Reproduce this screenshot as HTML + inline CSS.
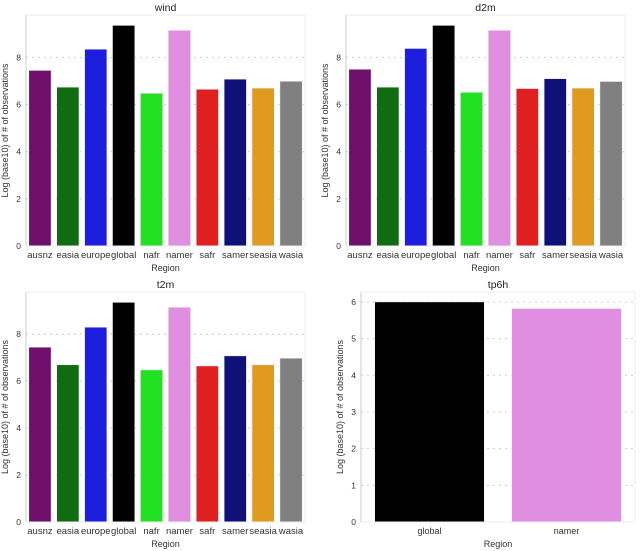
<!DOCTYPE html>
<html><head><meta charset="utf-8"><style>
body{margin:0;background:#fff;}
svg{display:block;font-family:"Liberation Sans","DejaVu Sans",sans-serif;}
</style></head><body>
<svg id="fig" width="640" height="551"></svg>
<script>
const regions=["ausnz","easia","europe","global","nafr","namer","safr","samer","seasia","wasia"];
const colors=["#6f0f6b","#116b11","#1e1ee0","#000000","#22e022","#e08ee0","#e02020","#101078","#e09a20","#808080"];
const windVals=[7.45,6.74,8.35,9.36,6.48,9.15,6.65,7.08,6.7,6.99];
const d2mVals=[7.5,6.74,8.38,9.36,6.52,9.15,6.68,7.1,6.7,6.98];
const t2mVals=[7.45,6.7,8.3,9.36,6.48,9.15,6.65,7.08,6.7,6.98];
const tpRegions=["global","namer"];
const tpColors=["#000000","#e08ee0"];
const tpVals=[6.0,5.82];
const ticks10=[0,2,4,6,8];
const ticks6=[0,1,2,3,4,5,6];
const NS="http://www.w3.org/2000/svg";
const svg=document.getElementById('fig');
function mk(tag,attrs,parent){const e=document.createElementNS(NS,tag);for(const k in attrs)e.setAttribute(k,attrs[k]);(parent||svg).appendChild(e);return e;}
function panel(name,title,L,R,T,B,ymax,ticks,cats,cols,vals,fs){
  const g=mk('g',{});
  
  
  const y=v=>B-(v/ymax)*(B-T);
  const n=cats.length, step=(R-L)/n, bw=step*0.8;
  const x=i=>L+step*i+step*0.1;
  ticks.forEach(t=>{
    const gl=mk('line',{x1:L,x2:R,y1:y(t),y2:y(t),stroke:'#ccc','stroke-dasharray':'2,4','stroke-width':1},g);
    
    
    const tl=mk('text',{x:L-5,y:y(t)+3,'text-anchor':'end','font-size':8.5,fill:'#333'},g);
    tl.textContent=t;
    
    
  });
  vals.forEach((v,i)=>{
    const r=mk('rect',{x:x(i),y:y(v),width:bw,height:B-y(v),fill:cols[i],stroke:'#eee','stroke-width':0.6},g);
    
    
    const tl=mk('text',{x:x(i)+bw/2,y:B+12,'text-anchor':'middle','font-size':fs,fill:'#333'},g);
    tl.textContent=cats[i];
    
    
  });
  const ax=mk('line',{x1:L,x2:L,y1:T,y2:B,stroke:'#555','stroke-width':1.2},g);
  
  
  const fr=mk('rect',{x:L,y:T,width:R-L,height:B-T,fill:'none',stroke:'#eee'},g);
  
  
  const tt=mk('text',{x:(L+R)/2,y:T-4,'text-anchor':'middle','font-size':10.5,fill:'#222'},g);
  tt.textContent=title;
  
  
  const xt=mk('text',{x:(L+R)/2,y:B+25,'text-anchor':'middle','font-size':9,fill:'#333'},g);
  xt.textContent='Region';
  
  
  const cy=(T+B)/2, cx=L-18;
  const yt=mk('text',{x:cx,y:cy,'text-anchor':'middle','font-size':9,fill:'#333',transform:`rotate(-90 ${cx} ${cy})`},g);
  yt.textContent='Log (base10) of # of observations';
  
  
}
panel('wind','wind',26,305,15,246,9.8,ticks10,regions,colors,windVals,9.5);
panel('d2m','d2m',346,625,15,246,9.8,ticks10,regions,colors,d2mVals,9.5);
panel('t2m','t2m',26,305,292,522,9.8,ticks10,regions,colors,t2mVals,9.5);
panel('tp6h','tp6h',361,635,292,522,6.27,ticks6,tpRegions,tpColors,tpVals,9);
</script>
</body></html>
